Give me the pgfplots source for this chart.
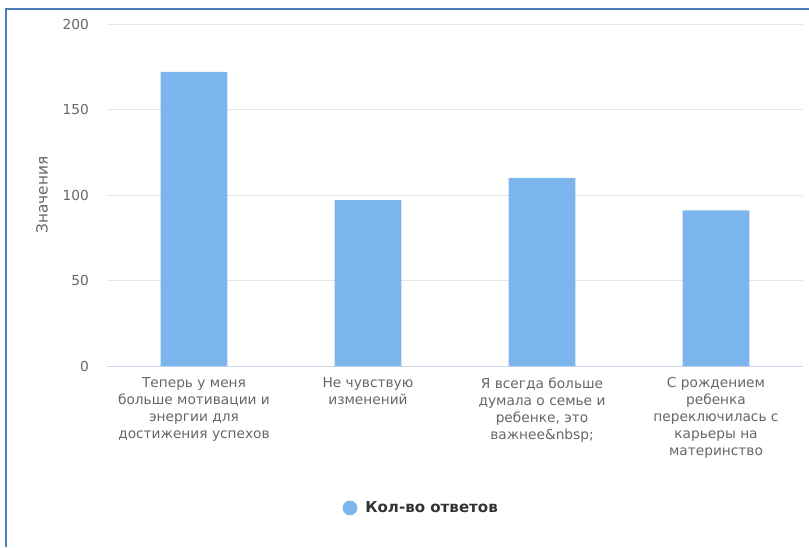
\documentclass[border=0pt]{standalone}
\usepackage{pgfplots}
\pgfplotsset{compat=1.18}
\usepackage{fontspec}
\setmainfont{DejaVu Sans}
\definecolor{bar}{HTML}{7CB5EC}
\definecolor{lbl}{HTML}{666666}
\definecolor{grd}{HTML}{E6E6E6}
\definecolor{axl}{HTML}{CCD6EB}
\definecolor{frm}{HTML}{4A7EBB}
\definecolor{leg}{HTML}{333333}
\begin{document}
\begin{tikzpicture}
\path[use as bounding box] (0,0) rectangle (606.75pt,410.25pt);
\draw[frm, line width=1.5pt] (4.5pt,0) -- (4.5pt,403.5pt) -- (606.75pt,403.5pt);
\begin{axis}[
  scale only axis,
  width=522pt, height=256.5pt,
  at={(80.25pt,135.75pt)}, anchor=south west,
  xmin=-0.5, xmax=3.5,
  ymin=0, ymax=200,
  ytick={0,50,100,150,200},
  xtick={0,1,2,3},
  xticklabels={{Теперь у меня\\больше мотивации и\\энергии для\\достижения успехов},
               {Не чувствую\\изменений},
               {Я всегда больше\\думала о семье и\\ребенке, это\\важнее\&nbsp;},
               {С рождением\\ребенка\\переключилась с\\карьеры на\\материнство}},
  x tick label style={align=center, font=\fontsize{10.3}{12.75}\selectfont, text=lbl, yshift=-5pt},
  y tick label style={font=\fontsize{10.3}{12}\selectfont, text=lbl, xshift=-10pt},
  /pgf/number format/assume math mode=true,
  major x tick style={draw=none},
  major y tick style={draw=none},
  extra x ticks={-0.5,0.5,1.5,2.5,3.5},
  extra x tick labels={},
  extra x tick style={tick style={draw=axl, line width=0.75pt}, major tick length=7.5pt, tick align=outside, grid=none},
  ymajorgrids, grid style={grd, line width=0.75pt},
  axis x line*=bottom, axis y line*=left,
  y axis line style={draw=none},
  x axis line style={axl, line width=0.75pt, -},
  ylabel={Значения},
  ylabel style={font=\fontsize{11.5}{13}\selectfont, text=lbl, at={(axis description cs:-0.0934,0.5)}, anchor=center, rotate=0},
  clip=false,
  legend style={at={(0.452,-0.415)}, anchor=center, draw=none, fill=none,
    font=\bfseries\fontsize{11.3}{13}\selectfont, text=leg},
  legend image code/.code={\fill[bar] (-0.1em,0) circle (5.5pt);},
]
\addplot[ybar, bar width=50pt, fill=bar, draw=none] coordinates {(0,172) (1,97) (2,110) (3,91)};
\addlegendentry{\hspace{4pt}Кол-во ответов}
\end{axis}
\end{tikzpicture}
\end{document}
